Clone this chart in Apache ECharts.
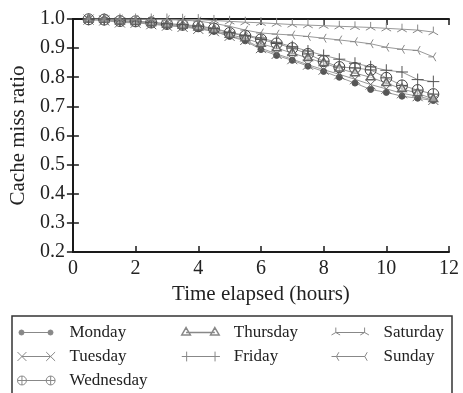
<!DOCTYPE html>
<html>
<head>
<meta charset="utf-8">
<script src="https://cdn.jsdelivr.net/npm/echarts@6/dist/echarts.min.js"></script>
<style>
  html, body { margin: 0; padding: 0; background: #fff; }
  #chart { width: 463px; height: 393px; }
</style>
</head>
<body>
<div id="chart"></div>
<script>
// x positions (hours elapsed)
const hours = [0.5, 1, 1.5, 2, 2.5, 3, 3.5, 4, 4.5, 5, 5.5, 6, 6.5, 7, 7.5, 8, 8.5, 9, 9.5, 10, 10.5, 11, 11.5];

// cache miss ratio per day
const monday    = [0.998, 0.997, 0.990, 0.990, 0.985, 0.978, 0.975, 0.968, 0.958, 0.940, 0.925, 0.895, 0.875, 0.858, 0.838, 0.820, 0.800, 0.780, 0.758, 0.748, 0.735, 0.728, 0.720];
const tuesday   = [0.998, 0.995, 0.988, 0.987, 0.982, 0.977, 0.973, 0.966, 0.958, 0.942, 0.928, 0.900, 0.880, 0.862, 0.843, 0.826, 0.810, 0.793, 0.775, 0.760, 0.745, 0.735, 0.722];
const wednesday = [0.999, 0.998, 0.993, 0.992, 0.988, 0.983, 0.980, 0.975, 0.967, 0.952, 0.942, 0.930, 0.916, 0.900, 0.880, 0.855, 0.835, 0.832, 0.825, 0.798, 0.772, 0.756, 0.742];
const thursday  = [0.998, 0.997, 0.991, 0.990, 0.986, 0.980, 0.977, 0.971, 0.962, 0.946, 0.934, 0.915, 0.900, 0.883, 0.866, 0.849, 0.830, 0.814, 0.800, 0.780, 0.760, 0.745, 0.725];
const friday    = [0.999, 0.998, 0.994, 0.993, 0.989, 0.984, 0.981, 0.976, 0.968, 0.954, 0.944, 0.935, 0.920, 0.905, 0.890, 0.875, 0.862, 0.848, 0.836, 0.824, 0.818, 0.792, 0.785];
const saturday  = [1.000, 1.000, 1.000, 1.000, 1.000, 1.000, 0.999, 0.998, 0.995, 0.992, 0.989, 0.987, 0.984, 0.981, 0.979, 0.977, 0.975, 0.973, 0.971, 0.968, 0.965, 0.962, 0.955];
const sunday    = [1.000, 1.000, 1.000, 0.999, 0.999, 0.998, 0.996, 0.993, 0.985, 0.975, 0.962, 0.952, 0.948, 0.945, 0.940, 0.934, 0.928, 0.922, 0.915, 0.903, 0.896, 0.892, 0.870];

const xTicks = [0, 2, 4, 6, 8, 10, 12];
const yTicks = [0.2, 0.3, 0.4, 0.5, 0.6, 0.7, 0.8, 0.9, 1.0];

const FONT = '"Liberation Serif", "DejaVu Serif", serif';

// marker shapes as path strings
const shapes = {
  dot: (cx, cy, s) => `M${cx - s},${cy} A${s},${s} 0 1 1 ${cx + s},${cy} A${s},${s} 0 1 1 ${cx - s},${cy} Z`,
  cross: (cx, cy, s) => `M${cx - s},${cy - s} L${cx + s},${cy + s} M${cx - s},${cy + s} L${cx + s},${cy - s}`,
  plus: (cx, cy, s) => `M${cx},${cy - s} L${cx},${cy + s} M${cx - s},${cy} L${cx + s},${cy}`,
  oplus: (cx, cy, s) => shapes.dot(cx, cy, s) + ' ' + shapes.plus(cx, cy, s),
  tri: (cx, cy, s) => `M${cx},${cy - s} L${cx + s * 0.87},${cy + s * 0.5} L${cx - s * 0.87},${cy + s * 0.5} Z`,
  triUp: (cx, cy, s) => `M${cx},${cy} L${cx},${cy - s} M${cx},${cy} L${cx - s * 0.87},${cy + s * 0.5} M${cx},${cy} L${cx + s * 0.87},${cy + s * 0.5}`,
  triLeft: (cx, cy, s) => `M${cx},${cy} L${cx - s},${cy} M${cx},${cy} L${cx + s * 0.5},${cy - s * 0.87} M${cx},${cy} L${cx + s * 0.5},${cy + s * 0.87}`
};

// symbol in a fixed 10x10 box so the shape centre sits on the point
const sym = (k) => 'path://M0,0 M10,10 ' + shapes[k](5, 5, 5);
// legend icon: marker - line - marker, padded box so text starts further right
const icon = (k, s) => 'path://M0,0 M47,12 ' + shapes[k](4, 6, s) + ' M4,6 L33,6 ' + shapes[k](33, 6, s);

const days = [
  { name: 'Monday',    data: monday,    k: 'dot',     size: 6,  s: 2.5, fill: '#555', stroke: '#555', lw: 1 },
  { name: 'Tuesday',   data: tuesday,   k: 'cross',   size: 10, s: 4.5, fill: 'transparent', stroke: '#666', lw: 1 },
  { name: 'Wednesday', data: wednesday, k: 'oplus',   size: 11, s: 4.5, fill: 'transparent', stroke: '#444', lw: 1 },
  { name: 'Thursday',  data: thursday,  k: 'tri',     size: 10, s: 5,   fill: 'rgba(255,255,255,0.5)', stroke: '#666', lw: 1.5 },
  { name: 'Friday',    data: friday,    k: 'plus',    size: 12, s: 5,   fill: 'transparent', stroke: '#555', lw: 1 },
  { name: 'Saturday',  data: saturday,  k: 'triUp',   size: 11, s: 5,   fill: 'transparent', stroke: '#888', lw: 1 },
  { name: 'Sunday',    data: sunday,    k: 'triLeft', size: 10, s: 5,   fill: 'transparent', stroke: '#888', lw: 1 }
];

const series = days.map(d => ({
  name: d.name,
  type: 'line',
  data: hours.map((h, i) => [h, d.data[i]]),
  symbol: sym(d.k),
  symbolSize: d.size,
  lineStyle: { color: '#999', width: 1 },
  itemStyle: { color: d.fill, borderColor: d.stroke, borderWidth: d.lw },
  emphasis: { disabled: true }
}));

const legendCol = (names, left) => ({
  orient: 'vertical',
  left: left,
  top: 324,
  padding: 0,
  itemWidth: 47,
  itemHeight: 12,
  itemGap: 7,
  selectedMode: false,
  textStyle: { fontFamily: FONT, fontSize: 17, color: '#222', lineHeight: 17 },
  data: names.map(n => {
    const d = days.find(x => x.name === n);
    return {
      name: n,
      icon: icon(d.k, d.s),
      itemStyle: {
        color: d.k === 'dot' ? '#888' : 'transparent',
        borderColor: '#888',
        borderWidth: d.k === 'tri' ? 1.5 : 1
      }
    };
  })
});

const frame = { show: true, lineStyle: { color: '#1a1a1a', width: 2 } };
const ticks = { show: true, inside: true, length: 6, lineStyle: { color: '#1a1a1a', width: 1.5 } };
const labelStyle = { fontFamily: FONT, fontSize: 20, color: '#222' };

const option = {
  animation: false,
  backgroundColor: '#fff',
  grid: { left: 71, right: 14, top: 19, bottom: 141 },
  legend: [
    legendCol(['Monday', 'Tuesday', 'Wednesday'], 17),
    legendCol(['Thursday', 'Friday'], 181),
    legendCol(['Saturday', 'Sunday'], 331)
  ],
  graphic: [{
    type: 'rect',
    shape: { x: 12, y: 316, width: 440, height: 100 },
    style: { fill: 'none', stroke: '#333', lineWidth: 1.5 },
    silent: true
  }],
  xAxis: [{
    type: 'value',
    min: xTicks[0],
    max: xTicks[xTicks.length - 1],
    interval: 2,
    name: 'Time elapsed (hours)',
    nameLocation: 'middle',
    nameGap: 30,
    nameTextStyle: { fontFamily: FONT, fontSize: 21, color: '#222' },
    axisLine: frame,
    axisTick: ticks,
    axisLabel: Object.assign({ margin: 7 }, labelStyle),
    splitLine: { show: false }
  }, {
    type: 'value',
    position: 'top',
    min: xTicks[0],
    max: xTicks[xTicks.length - 1],
    interval: 2,
    axisLine: frame,
    axisTick: ticks,
    axisLabel: { show: false },
    splitLine: { show: false }
  }],
  yAxis: [{
    type: 'value',
    min: yTicks[0],
    max: yTicks[yTicks.length - 1],
    interval: 0.1,
    name: 'Cache miss ratio',
    nameLocation: 'middle',
    nameGap: 38,
    nameTextStyle: { fontFamily: FONT, fontSize: 21, color: '#222' },
    axisLine: frame,
    axisTick: ticks,
    axisLabel: Object.assign({ margin: 8, formatter: v => v.toFixed(1) }, labelStyle),
    splitLine: { show: false }
  }, {
    type: 'value',
    position: 'right',
    min: yTicks[0],
    max: yTicks[yTicks.length - 1],
    interval: 0.1,
    axisLine: frame,
    axisTick: ticks,
    axisLabel: { show: false },
    splitLine: { show: false }
  }],
  series: series
};

const chart = echarts.init(document.getElementById('chart'));
chart.setOption(option);
</script>
</body>
</html>
